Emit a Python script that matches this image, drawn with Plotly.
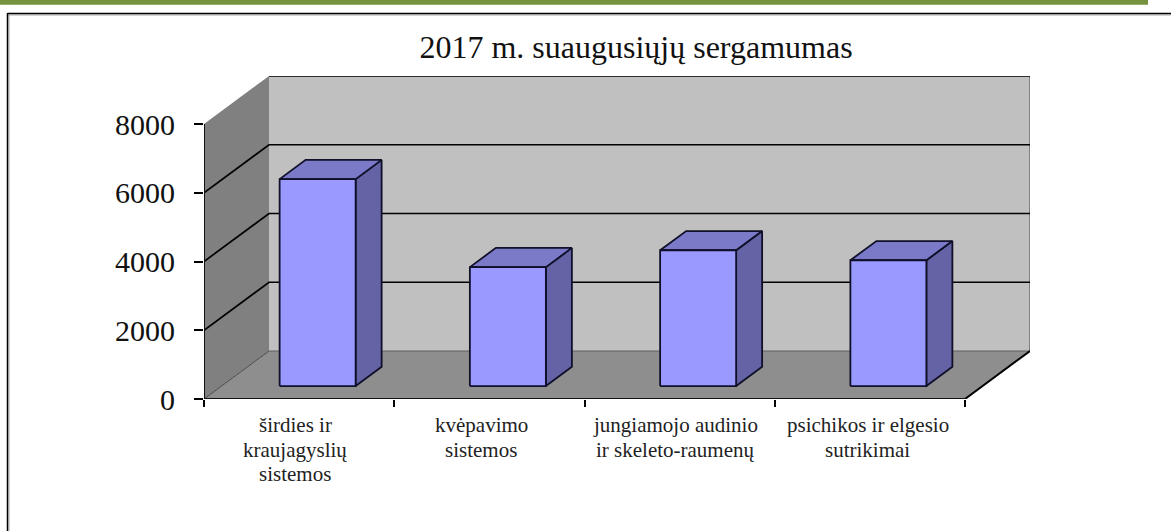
import plotly.graph_objects as go

title = "2017 m. suaugusiųjų sergamumas"
categories = [["širdies ir", "kraujagyslių", "sistemos"], ["kvėpavimo", "sistemos"],
              ["jungiamojo audinio", "ir skeleto-raumenų"], ["psichikos ir elgesio", "sutrikimai"]]
values = [6020, 3460, 3950, 3660]
y_ticks = [0, 2000, 4000, 6000, 8000]

# pseudo-3D geometry (in axis units)
Y_MAX = 8000
N = len(categories)
DX = 65 / 190.25      # full depth shift, category units
DY = 48 / 275 * 8000  # full depth shift, value units
BAR_W = 76 / 190.25
BAR_D0, BAR_D1 = 0.27, 0.67
W, H = 1171, 531
L, R, T, B = 204, 1030, 76, 399
LABEL_SHIFT = [-4, -8, -4, -2]  # px, horizontal nudge of category labels
LABEL_TOP, LABEL_STEP = 425, 24.5  # px, first line centre and line step


def p(x, d, v):
    return x + d * DX, v + d * DY


def poly(fig, pts, fill, line="black", lw=0, close=True):
    xs = [a for a, _ in pts]
    ys = [b for _, b in pts]
    if close:
        xs.append(xs[0]); ys.append(ys[0])
    fig.add_trace(go.Scatter(
        x=xs, y=ys, mode="lines", fill="toself" if fill else None,
        fillcolor=fill, line=dict(color=line, width=lw), hoverinfo="skip",
        showlegend=False, cliponaxis=False))


def seg(fig, pts, color="black", lw=1.5):
    poly(fig, pts, None, color, lw, close=False)


fig = go.Figure()
# walls and floor
poly(fig, [p(0, 1, 0), p(N, 1, 0), p(N, 1, Y_MAX), p(0, 1, Y_MAX)], "#C0C0C0")
poly(fig, [p(0, 0, 0), p(0, 1, 0), p(0, 1, Y_MAX), p(0, 0, Y_MAX)], "#808080")
poly(fig, [p(0, 0, 0), p(N, 0, 0), p(N, 1, 0), p(0, 1, 0)], "#8E8E8E")
# wall edges
seg(fig, [p(N, 1, 0), p(N, 1, Y_MAX)], "#808080", 2)
seg(fig, [p(0, 1, 0), p(N, 1, 0)], "#5F5F5F", 1)
seg(fig, [p(0, 0, 0), p(0, 1, 0)], "#4A4A4A", 1)
seg(fig, [p(N, 0, 0), p(N, 1, 0)], "black", 2)
# gridlines
for v in y_ticks[1:-1]:
    seg(fig, [p(0, 0, v), p(0, 1, v), p(N, 1, v)], "black", 1.7)
seg(fig, [p(0, 1, Y_MAX), p(N, 1, Y_MAX)], "black", 1.7)
# axis lines
seg(fig, [p(0, 0, 0), p(0, 0, Y_MAX)], "#111111", 2)
seg(fig, [p(0, 0, 0), p(N, 0, 0)], "#111111", 2)

# bars
for i, v in enumerate(values):
    x0 = i + 0.505 - BAR_W / 2
    x1 = i + 0.505 + BAR_W / 2
    edge = "#10102A"
    poly(fig, [p(x1, BAR_D0, 0), p(x1, BAR_D1, 0), p(x1, BAR_D1, v), p(x1, BAR_D0, v)], "#6363A5", edge, 1.8)
    poly(fig, [p(x0, BAR_D0, v), p(x1, BAR_D0, v), p(x1, BAR_D1, v), p(x0, BAR_D1, v)], "#7A7AC8", edge, 1.8)
    poly(fig, [p(x0, BAR_D0, 0), p(x1, BAR_D0, 0), p(x1, BAR_D0, v), p(x0, BAR_D0, v)], "#9999FF", edge, 1.8)


def px(x):
    return (x - L) / (R - L)


def py(y):
    return (B - y) / (B - T)


frame = [
    dict(type="rect", x0=px(0), x1=px(1148), y0=py(0), y1=py(4.8), fillcolor="#76923C", line_width=0),
    dict(type="line", x0=px(7.5), x1=px(1171), y0=py(15), y1=py(15), line=dict(color="#AAAAAA", width=1)),
    dict(type="line", x0=px(9), x1=px(9), y0=py(15), y1=py(531), line=dict(color="#AAAAAA", width=1)),
    dict(type="line", x0=px(7.5), x1=px(1171), y0=py(13.5), y1=py(13.5), line=dict(color="black", width=1.5)),
    dict(type="line", x0=px(7.5), x1=px(7.5), y0=py(13), y1=py(531), line=dict(color="black", width=1.5)),
]
for s in frame:
    s.update(xref="paper", yref="paper", layer="below")

labels = []
for i, lines in enumerate(categories):
    for j, line in enumerate(lines):
        labels.append(dict(text=line, x=i + 0.5, xref="x", y=py(LABEL_TOP + j * LABEL_STEP), yref="paper",
                           xanchor="center", yanchor="middle", showarrow=False, xshift=LABEL_SHIFT[i],
                           font=dict(size=21, family="Liberation Serif", color="#222222")))

fig.update_layout(
    width=W, height=H,
    margin=dict(l=L, r=W - R, t=T, b=H - B, pad=0),
    paper_bgcolor="white", plot_bgcolor="white",
    shapes=frame,
    annotations=labels,
    showlegend=False,
    font=dict(family="Liberation Serif", color="#111111"),
    title=dict(text=title, x=636 / W, xanchor="center", y=1 - 47 / H, yanchor="middle",
               font=dict(size=32, family="Liberation Serif", color="#111111")),
    xaxis=dict(range=[0, N + DX], showgrid=False, zeroline=False, showline=False,
               tickmode="array", tickvals=[], ticks="",
               minor=dict(tick0=0, dtick=1, ticks="outside", ticklen=7, tickwidth=1.5,
                          tickcolor="black", showgrid=False)),
    yaxis=dict(range=[0, Y_MAX + DY], showgrid=False, zeroline=False, showline=False,
               tickmode="array", tickvals=y_ticks, ticks="outside", ticklen=9,
               tickwidth=1.5, tickcolor="black", ticklabelstandoff=13, tickfont=dict(size=30)),
)

fig.write_html("out.html", post_script="document.body.style.margin='0';",
               config={"displayModeBar": False})
